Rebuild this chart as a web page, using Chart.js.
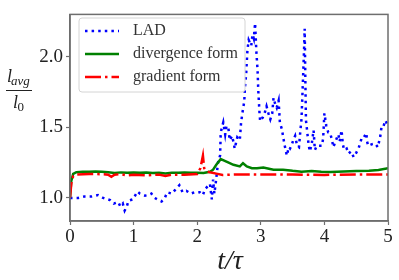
<!DOCTYPE html>
<html>
<head>
<meta charset="utf-8">
<script src="https://cdn.jsdelivr.net/npm/chart.js@4/dist/chart.umd.min.js"></script>
<style>
html,body{margin:0;padding:0;background:#fff;}
canvas{display:block;}
</style>
</head>
<body>
<canvas id="c" width="399" height="280"></canvas>
<script>
// ---- data ----
const seriesNames = ["LAD", "divergence form", "gradient form"];
const xTicks = [0, 1, 2, 3, 4, 5];
const yTicks = [1.0, 1.5, 2.0];

const tLAD = [0.0,0.13,0.23,0.34,0.44,0.52,0.63,0.69,0.76,0.79,0.83,0.86,0.89,0.92,0.99,1.06,1.10,1.18,1.23,1.28,1.33,1.39,1.44,1.49,1.53,1.60,1.65,1.72,1.77,1.83,1.90,1.96,2.04,2.09,2.12,2.17,2.20,2.23,2.25,2.27,2.29,2.31,2.33,2.36,2.37,2.41,2.44,2.46,2.49,2.51,2.55,2.59,2.63,2.67,2.69,2.71,2.74,2.75,2.77,2.78,2.79,2.81,2.85,2.87,2.89,2.91,2.93,2.95,2.96,2.98,2.99,3.03,3.06,3.09,3.12,3.15,3.18,3.20,3.23,3.25,3.28,3.30,3.33,3.37,3.39,3.41,3.44,3.46,3.49,3.51,3.54,3.57,3.60,3.62,3.64,3.66,3.68,3.69,3.70,3.71,3.72,3.75,3.77,3.80,3.83,3.85,3.88,3.90,3.96,3.98,4.00,4.01,4.03,4.06,4.09,4.12,4.14,4.20,4.22,4.24,4.27,4.29,4.31,4.35,4.38,4.42,4.46,4.50,4.54,4.59,4.62,4.66,4.67,4.69,4.74,4.80,4.84,4.88,4.90,4.93,4.96,5.00];
const vLAD = [1.00,1.00,1.01,1.01,1.02,1.00,0.985,0.96,0.97,0.94,0.96,0.91,0.935,0.98,0.99,1.045,1.03,1.016,1.02,1.03,1.00,0.985,0.975,1.00,1.04,1.03,1.055,1.09,1.04,1.05,1.03,1.04,1.04,1.02,1.06,1.085,1.10,0.99,1.13,1.03,1.10,1.18,1.26,1.30,1.465,1.535,1.45,1.51,1.50,1.41,1.44,1.35,1.43,1.41,1.535,1.60,1.685,1.78,1.88,1.97,2.05,2.12,2.08,2.16,2.13,2.24,2.04,1.90,1.765,1.60,1.545,1.57,1.60,1.65,1.60,1.557,1.60,1.71,1.66,1.64,1.69,1.535,1.49,1.385,1.34,1.30,1.36,1.35,1.38,1.41,1.44,1.37,1.36,1.465,1.56,1.80,2.05,2.20,1.85,1.55,1.51,1.385,1.33,1.38,1.48,1.34,1.37,1.37,1.37,1.42,1.60,1.57,1.51,1.465,1.46,1.41,1.36,1.43,1.45,1.40,1.48,1.38,1.34,1.35,1.315,1.33,1.29,1.32,1.355,1.43,1.43,1.46,1.40,1.37,1.38,1.385,1.36,1.44,1.51,1.51,1.55,1.51];

const tDiv = [0.0,0.02,0.05,0.10,0.20,0.30,0.40,0.50,0.60,0.70,0.80,0.90,1.00,1.10,1.20,1.30,1.40,1.50,1.60,1.70,1.80,1.90,2.00,2.10,2.20,2.25,2.30,2.37,2.46,2.57,2.67,2.72,2.78,2.86,2.94,3.04,3.20,3.35,3.50,3.64,3.80,3.95,4.10,4.30,4.50,4.70,4.85,5.00];
const vDiv = [1.00,1.12,1.17,1.182,1.185,1.186,1.188,1.185,1.182,1.176,1.181,1.178,1.181,1.178,1.18,1.176,1.179,1.173,1.178,1.178,1.18,1.178,1.178,1.176,1.185,1.20,1.235,1.275,1.258,1.235,1.223,1.246,1.223,1.21,1.21,1.216,1.20,1.20,1.192,1.186,1.19,1.186,1.184,1.187,1.19,1.193,1.198,1.21];

const tGrad = [0.0,0.02,0.05,0.10,0.30,0.50,0.60,0.65,0.70,0.80,0.90,1.00,1.20,1.40,1.50,1.60,1.80,2.00,2.05,2.09,2.11,2.14,2.20,2.30,2.40,2.60,3.00,3.50,4.00,4.50,5.00];
const vGrad = [1.00,1.10,1.155,1.165,1.17,1.168,1.165,1.15,1.165,1.168,1.16,1.165,1.16,1.165,1.155,1.165,1.165,1.17,1.21,1.30,1.21,1.19,1.182,1.172,1.162,1.166,1.166,1.166,1.163,1.166,1.166];

const colors = ["#0000ff", "#008000", "#ff0000"];
const dashes = [[2.5, 4.1], [], [16, 4, 2.5, 4]];

function pts(ts, vs) { return ts.map((t, i) => ({x: t, y: vs[i]})); }

const SERIF = "'Liberation Serif', 'DejaVu Serif', serif";
const FRAME = "#6e6e6e";

const bgPlugin = {
  id: 'bg',
  beforeDraw(chart) {
    const ctx = chart.ctx;
    ctx.save(); ctx.fillStyle = '#fff';
    ctx.fillRect(0, 0, chart.width, chart.height); ctx.restore();
  }
};

const framePlugin = {
  id: 'frame',
  afterDatasetsDraw(chart) {
    const ctx = chart.ctx, a = chart.chartArea;
    ctx.save();
    ctx.strokeStyle = FRAME; ctx.lineWidth = 1.5;
    ctx.strokeRect(a.left, a.top, a.right - a.left, a.bottom - a.top);
    ctx.restore();

    // legend
    ctx.save();
    const lx = 79, ly = 18, lw = 166, lh = 74, r = 3;
    ctx.beginPath();
    ctx.moveTo(lx + r, ly); ctx.lineTo(lx + lw - r, ly); ctx.arcTo(lx + lw, ly, lx + lw, ly + r, r);
    ctx.lineTo(lx + lw, ly + lh - r); ctx.arcTo(lx + lw, ly + lh, lx + lw - r, ly + lh, r);
    ctx.lineTo(lx + r, ly + lh); ctx.arcTo(lx, ly + lh, lx, ly + lh - r, r);
    ctx.lineTo(lx, ly + r); ctx.arcTo(lx, ly, lx + r, ly, r); ctx.closePath();
    ctx.fillStyle = 'rgba(255,255,255,0.85)'; ctx.fill();
    ctx.strokeStyle = '#d4d4d4'; ctx.lineWidth = 1; ctx.stroke();
    const rows = [31, 54, 77];
    chart.data.datasets.forEach((ds, i) => {
      const y = rows[i];
      ctx.beginPath();
      ctx.setLineDash(ds.borderDash || []);
      ctx.lineCap = 'butt';
      ctx.strokeStyle = ds.borderColor; ctx.lineWidth = ds.borderWidth;
      ctx.moveTo(85, y); ctx.lineTo(119, y); ctx.stroke();
      ctx.setLineDash([]);
      ctx.fillStyle = '#333';
      ctx.font = "16px " + SERIF;
      ctx.textBaseline = 'middle'; ctx.textAlign = 'left';
      ctx.fillText(ds.label, 133, y);
    });
    ctx.restore();
  },
  afterDraw(chart) {
    const ctx = chart.ctx;
    ctx.save();
    ctx.fillStyle = '#222';
    // x axis title
    ctx.font = "italic 28px " + SERIF;
    ctx.textAlign = 'center'; ctx.textBaseline = 'alphabetic';
    ctx.fillText("t/\u03c4", 230, 269);
    // y axis title: fraction l_avg / l_0
    ctx.textAlign = 'left';
    ctx.font = "italic 18px " + SERIF;
    ctx.fillText("l", 7, 82);
    ctx.font = "italic 13px " + SERIF;
    ctx.fillText("avg", 11, 85);
    ctx.strokeStyle = '#222'; ctx.lineWidth = 1;
    ctx.beginPath(); ctx.moveTo(6, 90.5); ctx.lineTo(32, 90.5); ctx.stroke();
    ctx.font = "italic 18px " + SERIF;
    ctx.fillText("l", 13, 108);
    ctx.font = "13px " + SERIF;
    ctx.fillText("0", 17.5, 111);
    ctx.restore();
  }
};

new Chart(document.getElementById('c'), {
  type: 'line',
  data: {
    datasets: [
      {label: seriesNames[0], data: pts(tLAD, vLAD), borderColor: colors[0], borderWidth: 2.5, borderDash: dashes[0], order: 3},
      {label: seriesNames[1], data: pts(tDiv, vDiv), borderColor: colors[1], borderWidth: 2.5, borderDash: dashes[1], order: 2},
      {label: seriesNames[2], data: pts(tGrad, vGrad), borderColor: colors[2], borderWidth: 2.5, borderDash: dashes[2], order: 1}
    ]
  },
  options: {
    responsive: false,
    animation: false,
    devicePixelRatio: 1,
    layout: {padding: {left: 0, right: 11, top: 9, bottom: 0}},
    elements: {point: {radius: 0}, line: {tension: 0, fill: false, borderCapStyle: 'butt'}},
    plugins: {legend: {display: false}, tooltip: {enabled: false}},
    scales: {
      x: {
        type: 'linear', min: 0, max: 5,
        afterBuildTicks: s => { s.ticks = xTicks.map(v => ({value: v})); },
        afterFit: s => { s.height = 59; },
        grid: {drawOnChartArea: false, drawTicks: true, tickLength: 4, tickColor: FRAME, tickWidth: 1.2},
        border: {display: true, color: FRAME, width: 1.5},
        ticks: {font: {family: SERIF, size: 19}, color: '#222', padding: 1, maxRotation: 0,
                callback: v => String(v)}
      },
      y: {
        type: 'linear', min: 0.836, max: 2.302,
        afterBuildTicks: s => { s.ticks = yTicks.map(v => ({value: v})); },
        afterFit: s => { s.width = 70; },
        grid: {drawOnChartArea: false, drawTicks: true, tickLength: 4, tickColor: FRAME, tickWidth: 1.2},
        border: {display: true, color: FRAME, width: 1.5},
        ticks: {font: {family: SERIF, size: 19}, color: '#222', padding: 3,
                callback: v => Number(v).toFixed(1)}
      }
    }
  },
  plugins: [bgPlugin, framePlugin]
});
</script>
</body>
</html>
